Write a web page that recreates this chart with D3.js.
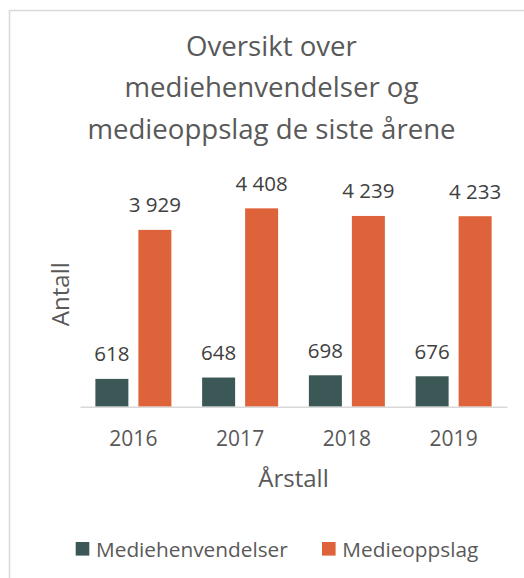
<!DOCTYPE html>
<html>
<head>
<meta charset="utf-8">
<script src="https://cdn.jsdelivr.net/npm/d3@7"></script>
<style>
  body { margin: 0; background: #fff; }
  svg text { font-family: "Open Sans", "Noto Sans", sans-serif; }
</style>
</head>
<body>
<div id="chart"></div>
<script>
const years = ["2016", "2017", "2018", "2019"];
const seriesNames = ["Mediehenvendelser", "Medieoppslag"];
const henvendelser = [618, 648, 698, 676];
const oppslag = [3929, 4408, 4239, 4233];
const colors = ["#3B5856", "#DE633B"];

const W = 524, H = 578;

const svg = d3.select("#chart")
    .append("svg")
    .attr("width", W)
    .attr("height", H);

// Chart area border (runs off right and bottom edge)
svg.append("rect")
    .attr("x", 9.5)
    .attr("y", 10.5)
    .attr("width", 700)
    .attr("height", 700)
    .attr("fill", "#fff")
    .attr("stroke", "#d9d9d9")
    .attr("stroke-width", 1.5);

// Title
const titleLines = ["Oversikt over", "mediehenvendelser og", "medieoppslag de siste årene"];
svg.append("g").selectAll("text")
    .data(titleLines)
    .enter()
    .append("text")
    .attr("x", 271.5)
    .attr("y", (d, i) => 55.5 + i * 41.5)
    .attr("text-anchor", "middle")
    .style("font-size", "27.6px")
    .style("fill", "#595959")
    .text(d => d);

// Scales
const x0 = d3.scaleBand()
    .domain(years)
    .range([80, 507]);

const x1 = d3.scaleBand()
    .domain(seriesNames)
    .range([0, x0.bandwidth()])
    .paddingInner(0.2326)
    .paddingOuter(0.3576);

const y = d3.scaleLinear()
    .domain([0, 5000])
    .range([406.7, 181.7]);

const rows = years.map((yr, i) => ({
    year: yr,
    values: [
        { name: seriesNames[0], value: henvendelser[i] },
        { name: seriesNames[1], value: oppslag[i] }
    ]
}));

const groups = svg.append("g").selectAll("g")
    .data(rows)
    .enter()
    .append("g")
    .attr("transform", d => `translate(${x0(d.year)},0)`);

groups.selectAll("rect")
    .data(d => d.values)
    .enter()
    .append("rect")
    .attr("x", d => x1(d.name))
    .attr("y", d => y(d.value))
    .attr("width", x1.bandwidth())
    .attr("height", d => y(0) - y(d.value))
    .attr("fill", (d, i) => colors[i]);

const fmt = v => d3.format(",")(v).replace(/,/g, " ");

// Data labels
groups.selectAll("text")
    .data(d => d.values)
    .enter()
    .append("text")
    .attr("x", d => x1(d.name) + x1.bandwidth() / 2)
    .attr("y", d => y(d.value) - 17.5)
    .attr("text-anchor", "middle")
    .style("font-size", "20.5px")
    .style("fill", "#404040")
    .text(d => fmt(d.value));

// X axis
const xAxis = svg.append("g")
    .attr("transform", `translate(0,${y(0)})`)
    .call(d3.axisBottom(x0).tickSize(0).tickPadding(40));

xAxis.select(".domain")
    .attr("stroke", "#d9d9d9")
    .attr("stroke-width", 1.5);

xAxis.selectAll("text")
    .attr("dy", 0)
    .attr("y", 446.5 - y(0))
    .style("font-family", "'Open Sans', sans-serif")
    .style("font-size", "21px")
    .style("fill", "#595959");

// Axis titles
svg.append("text")
    .attr("x", 293.5)
    .attr("y", 486.5)
    .attr("text-anchor", "middle")
    .style("font-size", "24px")
    .style("fill", "#595959")
    .text("Årstall");

svg.append("text")
    .attr("transform", `translate(69,${(y(0) + y(5000)) / 2}) rotate(-90)`)
    .attr("text-anchor", "middle")
    .style("font-size", "24px")
    .style("fill", "#595959")
    .text("Antall");

// Legend
const legendX = [75.7, 322];
const legend = svg.append("g").selectAll("g")
    .data(seriesNames)
    .enter()
    .append("g")
    .attr("transform", (d, i) => `translate(${legendX[i]},542)`);

legend.append("rect")
    .attr("width", 13.6)
    .attr("height", 13.6)
    .attr("fill", (d, i) => colors[i]);

legend.append("text")
    .attr("x", 20.3)
    .attr("y", 14.7)
    .style("font-size", "20.8px")
    .style("fill", "#595959")
    .text(d => d);
</script>
</body>
</html>
